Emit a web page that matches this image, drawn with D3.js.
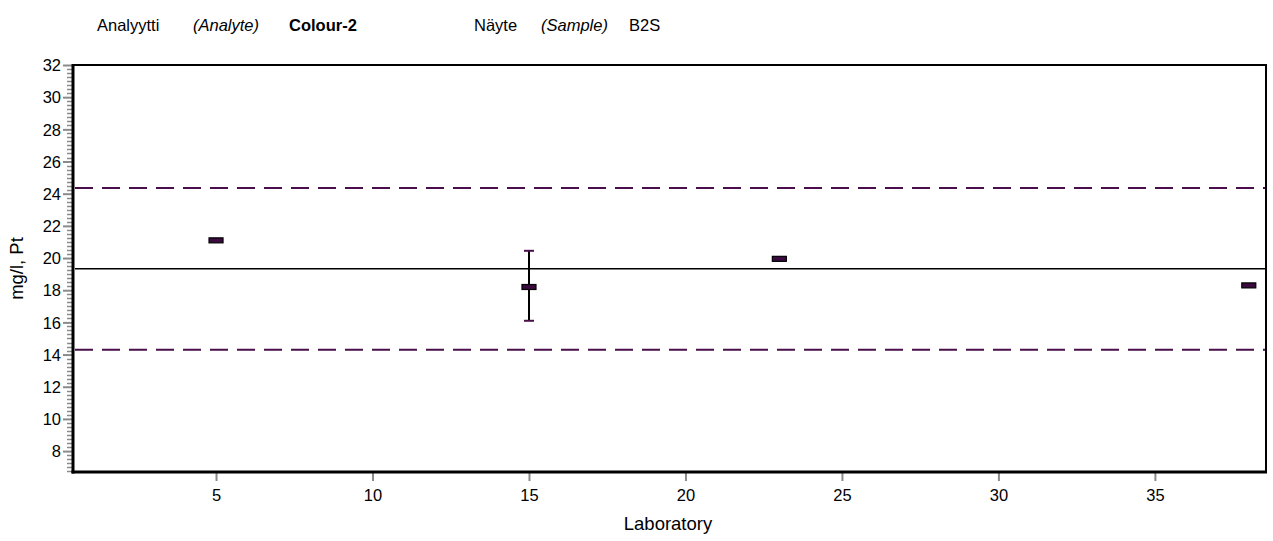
<!DOCTYPE html>
<html>
<head>
<meta charset="utf-8">
<script src="https://d3js.org/d3.v7.min.js"></script>
<style>
	body { margin: 0; background: #fff; }
	svg text { font-family: "Liberation Sans", Arial, sans-serif; fill: #000; }
</style>
</head>
<body>
<svg id="chart" width="1273" height="541"></svg>
<script>
// lab results
const labs = [5, 15, 23, 38];
const results = [21.1, 18.2, 19.95, 18.3];
const errLow = [null, 16.1, null, null];
const errHigh = [null, 20.45, null, null];

const assigned = 19.33;
const limits = [24.35, 14.3];

const yTicks = [8, 10, 12, 14, 16, 18, 20, 22, 24, 26, 28, 30, 32];
const xTicks = [5, 10, 15, 20, 25, 30, 35];

const purple = '#4a0f4a';
const fs = '16.5px';
const titleFs = '18.5px';
const svg = d3.select('#chart');

const box = { left: 73, right: 1266, top: 65, bottom: 472 };

const x = d3.scaleLinear().domain([0.43, 38.55]).range([box.left, box.right]);
const y = d3.scaleLinear().domain([6.7, 32]).range([box.bottom, box.top]);

// header line
const head = svg.append('text').attr('y', 31).style('font-size', fs);
head.append('tspan').attr('x', 97).text('Analyytti');
head.append('tspan').attr('x', 193).style('font-style', 'italic').text('(Analyte)');
head.append('tspan').attr('x', 289).style('font-weight', 'bold').text('Colour-2');
head.append('tspan').attr('x', 474).text('Näyte');
head.append('tspan').attr('x', 541).style('font-style', 'italic').text('(Sample)');
head.append('tspan').attr('x', 629).text('B2S');

// y minor ticks
const minor = d3.range(6.75, 32.01, 0.25).filter(v => Math.abs(v - Math.round(v / 2) * 2) > 0.01);
svg.append('g').selectAll('line').data(minor).enter().append('line')
	.attr('x1', box.left - 6).attr('x2', box.left)
	.attr('y1', d => Math.round(y(d)) + 0.5).attr('y2', d => Math.round(y(d)) + 0.5)
	.attr('stroke', '#8a8a8a').attr('stroke-width', 1.5);

// y axis (major)
const yAxis = svg.append('g').attr('transform', `translate(${box.left},0)`)
	.call(d3.axisLeft(y).tickValues(yTicks).tickSize(10).tickPadding(2).tickFormat(d3.format('d')));
yAxis.select('.domain').remove();
yAxis.selectAll('line').attr('stroke', '#8a8a8a').attr('stroke-width', 2);
yAxis.selectAll('text').style('font-size', fs).attr('dy', '0.35em');

// x axis
const xAxis = svg.append('g').attr('transform', `translate(0,${box.bottom})`)
	.call(d3.axisBottom(x).tickValues(xTicks).tickSize(9).tickPadding(8).tickFormat(d3.format('d')));
xAxis.select('.domain').remove();
xAxis.selectAll('line').attr('stroke', '#8a8a8a').attr('stroke-width', 2);
xAxis.selectAll('text').style('font-size', fs);

// frame
svg.append('line').attr('x1', box.left).attr('x2', box.right + 1)
	.attr('y1', box.top).attr('y2', box.top).attr('stroke', '#000').attr('stroke-width', 2);
svg.append('line').attr('x1', box.right).attr('x2', box.right)
	.attr('y1', box.top).attr('y2', box.bottom).attr('stroke', '#000').attr('stroke-width', 2);
svg.append('line').attr('x1', box.left).attr('x2', box.left)
	.attr('y1', box.top - 1).attr('y2', box.bottom + 1.5).attr('stroke', '#000').attr('stroke-width', 3);
svg.append('line').attr('x1', box.left - 1.5).attr('x2', box.right + 1)
	.attr('y1', box.bottom).attr('y2', box.bottom).attr('stroke', '#000').attr('stroke-width', 3);

// limit lines
svg.append('g').selectAll('line').data(limits).enter().append('line')
	.attr('x1', box.left + 2).attr('x2', box.right - 1)
	.attr('y1', d => y(d)).attr('y2', d => y(d))
	.attr('stroke', purple).attr('stroke-width', 2).attr('stroke-dasharray', '18,9');

// assigned value
svg.append('line').attr('x1', box.left + 2).attr('x2', box.right - 1)
	.attr('y1', y(assigned)).attr('y2', y(assigned))
	.attr('stroke', '#000').attr('stroke-width', 1.6);

// error bars
const eb = svg.append('g');
labs.forEach((lab, i) => {
	if (errLow[i] == null) return;
	eb.append('line').attr('x1', x(lab)).attr('x2', x(lab))
		.attr('y1', y(errHigh[i])).attr('y2', y(errLow[i]))
		.attr('stroke', '#000').attr('stroke-width', 2);
	[errHigh[i], errLow[i]].forEach(v => {
		eb.append('line').attr('x1', x(lab) - 5).attr('x2', x(lab) + 5)
			.attr('y1', y(v)).attr('y2', y(v))
			.attr('stroke', purple).attr('stroke-width', 2);
	});
});

// result markers
svg.append('g').selectAll('rect').data(labs).enter().append('rect')
	.attr('x', d => x(d) - 7)
	.attr('y', (d, i) => y(results[i]) - 2.5)
	.attr('width', 14).attr('height', 5)
	.attr('fill', '#3a0a3e').attr('stroke', '#000').attr('stroke-width', 1.2);

// axis titles
svg.append('text').attr('x', 668).attr('y', 530)
	.attr('text-anchor', 'middle').style('font-size', titleFs).text('Laboratory');
svg.append('text').attr('transform', `translate(23,${(box.top + box.bottom) / 2}) rotate(-90)`)
	.attr('text-anchor', 'middle').style('font-size', titleFs).text('mg/l, Pt');
</script>
</body>
</html>
